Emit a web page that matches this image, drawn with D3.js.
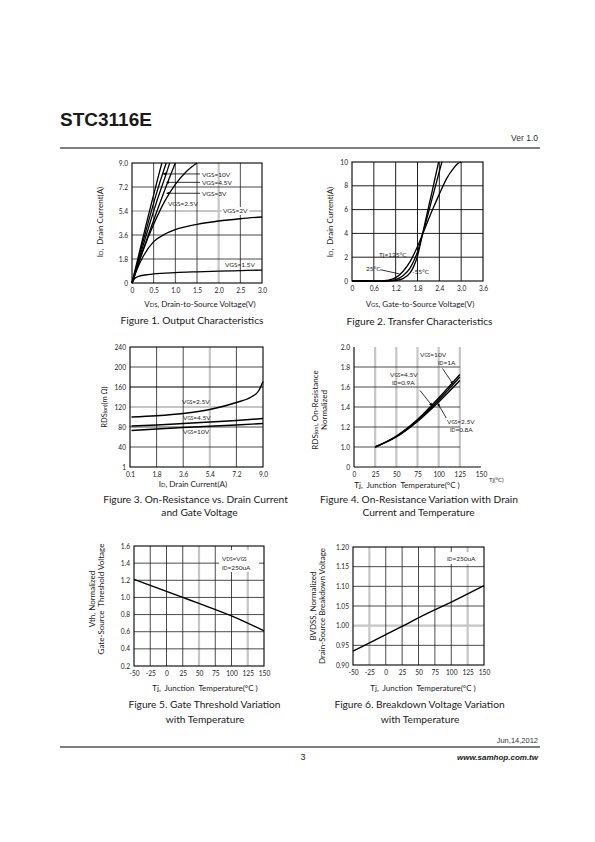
<!DOCTYPE html>
<html><head><meta charset="utf-8">
<script src="https://cdn.jsdelivr.net/npm/d3@7"></script>
<style>
body{margin:0;background:#fff;}
text{white-space:pre;}
</style></head><body>
<svg id="page" width="595" height="842"></svg>
<script>
// ---------------- DATA ----------------
// Figure 1: Output characteristics  [VDS (V), ID (A)]
const fig1XTicks = [0, 0.5, 1.0, 1.5, 2.0, 2.5, 3.0];
const fig1XTickLabels = ["0", "0.5", "1.0", "1.5", "2.0", "2.5", "3.0"];
const fig1YTicks = [0, 1.8, 3.6, 5.4, 7.2, 9.0];
const fig1YTickLabels = ["0", "1.8", "3.6", "5.4", "7.2", "9.0"];
const fig1Vgs10 = [[0,0],[0.2,2.7],[0.4,5.35],[0.6,7.9],[0.69,9.0]];
const fig1Vgs45 = [[0,0],[0.2,2.45],[0.4,4.85],[0.6,7.1],[0.79,9.0]];
const fig1Vgs3a = [[0,0],[0.2,2.2],[0.4,4.35],[0.6,6.4],[0.8,8.3],[0.87,9.0]];
const fig1Vgs3b = [[0,0],[0.2,1.95],[0.4,3.8],[0.6,5.6],[0.8,7.35],[1.0,9.0]];
const fig1Vgs25 = [[0,0],[0.25,2.4],[0.5,4.4],[0.75,6.1],[1.0,7.4],[1.25,8.35],[1.5,9.0]];
const fig1Vgs2 = [[0,0],[0.1,0.9],[0.25,1.95],[0.5,3.1],[0.75,3.65],[1.0,4.0],[1.5,4.4],[2.0,4.65],[2.5,4.82],[3.0,4.95]];
const fig1Vgs15 = [[0,0],[0.05,0.3],[0.15,0.5],[0.3,0.6],[0.5,0.68],[1.0,0.78],[1.5,0.84],[2.0,0.89],[2.5,0.93],[3.0,0.97]];

// Figure 2: Transfer characteristics [VGS (V), ID (A)]
const fig2XTicks = [0, 0.6, 1.2, 1.8, 2.4, 3.0, 3.6];
const fig2XTickLabels = ["0", "0.6", "1.2", "1.8", "2.4", "3.0", "3.6"];
const fig2YTicks = [0, 2, 4, 6, 8, 10];
const fig2YTickLabels = ["0", "2", "4", "6", "8", "10"];
const fig2Tj125 = [[0,0],[0.6,0],[0.9,0.03],[1.1,0.15],[1.2,0.28],[1.4,0.8],[1.6,1.65],[1.8,2.9],[2.0,4.4],[2.2,5.9],[2.4,7.3],[2.6,8.6],[2.8,9.5],[2.9,9.85],[3.0,10]];
const fig2Tj25 = [[0,0],[0.9,0],[1.0,0.02],[1.2,0.12],[1.4,0.45],[1.6,1.1],[1.7,1.7],[1.8,2.45],[1.9,3.5],[2.0,4.6],[2.2,6.9],[2.4,9.2],[2.47,10]];
const fig2TjM55 = [[0,0],[1.0,0],[1.2,0.04],[1.4,0.2],[1.6,0.7],[1.7,1.25],[1.8,2.1],[1.9,3.4],[2.0,4.8],[2.2,7.5],[2.38,10]];

// Figure 3: On-resistance vs drain current [ID (A), RDS(on) (mOhm)]
const fig3XTicks = [0, 1.8, 3.6, 5.4, 7.2, 9.0];
const fig3XTickLabels = ["0.1", "1.8", "3.6", "5.4", "7.2", "9.0"];
const fig3YTicks = [0, 40, 80, 120, 160, 200, 240];
const fig3YTickLabels = ["1", "40", "80", "120", "160", "200", "240"];
const fig3Vgs25 = [[0.1,100],[1.8,102.5],[3.6,107],[5.4,115],[7.2,129],[8.2,140],[8.7,152],[9.0,171]];
const fig3Vgs45 = [[0.1,82],[1.8,84],[3.6,87],[5.4,90],[7.2,93],[9.0,97]];
const fig3Vgs10 = [[0.1,73],[1.8,76],[3.6,79],[5.4,81.5],[7.2,84],[9.0,87]];

// Figure 4: On-resistance vs temperature [Tj (C), normalized RDS(on)]
const fig4XTicks = [0, 25, 50, 75, 100, 125, 150];
const fig4XTickLabels = ["0", "25", "50", "75", "100", "125", "150"];
const fig4YTicks = [0.8, 1.0, 1.2, 1.4, 1.6, 1.8, 2.0];
const fig4YTickLabels = ["0", "1.0", "1.2", "1.4", "1.6", "1.8", "2.0"];
const fig4Vgs10 = [[25,1.0],[50,1.11],[75,1.275],[100,1.49],[125,1.725]];
const fig4Vgs45 = [[25,1.0],[50,1.105],[75,1.265],[100,1.47],[125,1.70]];
const fig4Vgs25 = [[25,1.0],[50,1.10],[75,1.255],[100,1.45],[125,1.665]];

// Figure 5: Gate threshold vs temperature [Tj (C), normalized Vth]
const fig5XTicks = [-50, -25, 0, 25, 50, 75, 100, 125, 150];
const fig5XTickLabels = ["-50", "-25", "0", "25", "50", "75", "100", "125", "150"];
const fig5YTicks = [0.2, 0.4, 0.6, 0.8, 1.0, 1.2, 1.4, 1.6];
const fig5YTickLabels = ["0.2", "0.4", "0.6", "0.8", "1.0", "1.2", "1.4", "1.6"];
const fig5Vth = [[-50,1.21],[0,1.07],[25,1.0],[50,0.93],[100,0.785],[150,0.61]];

// Figure 6: Breakdown voltage vs temperature [Tj (C), normalized BVDSS]
const fig6XTicks = [-50, -25, 0, 25, 50, 75, 100, 125, 150];
const fig6XTickLabels = ["-50", "-25", "0", "25", "50", "75", "100", "125", "150"];
const fig6YTicks = [0.90, 0.95, 1.00, 1.05, 1.10, 1.15, 1.20];
const fig6YTickLabels = ["0.90", "0.95", "1.00", "1.05", "1.10", "1.15", "1.20"];
const fig6Bvdss = [[-50,0.935],[0,0.977],[25,0.998],[50,1.02],[100,1.06],[150,1.102]];

// ---------------- DRAWING ----------------
const svg = d3.select("#page");
const FONT = "Lato, 'Open Sans', 'DejaVu Sans', sans-serif";
const ARIAL = "'Liberation Sans', Arial, sans-serif";
const INK = "#1a1a1a";
const DARK = "#1e1e1e";
const GRAY = "#c6c6c6";
const CAP = 10.2, AXL = 8, TICK = 6.6, ANN = 6.5;

function addText(parent, x, y, str, size, anchor, opts = {}) {
  const t = parent.append("text")
    .attr("font-size", size)
    .attr("text-anchor", anchor || "start")
    .attr("fill", opts.fill || INK)
    .attr("font-family", opts.family || FONT);
  if (opts.rotate) t.attr("transform", `translate(${x},${y}) rotate(-90)`);
  else t.attr("x", x).attr("y", y);
  if (opts.weight) t.attr("font-weight", opts.weight);
  if (opts.style) t.attr("font-style", opts.style);
  str.split(/(_\{[^}]*\})/).forEach(p => {
    if (!p) return;
    const m = p.match(/^_\{(.*)\}$/);
    const s = t.append("tspan").text(m ? m[1] : p);
    if (m) s.attr("font-size", size * 0.72);
  });
  return t;
}

function panel(cfg) {
  const g = svg.append("g");
  const x = d3.scaleLinear().domain(cfg.xDomain).range([cfg.left, cfg.right]);
  const y = d3.scaleLinear().domain(cfg.yDomain).range([cfg.bottom, cfg.top]);
  return { g, x, y };
}
function vGrid(p, values, color, width, y0, y1) {
  const yd = p.y.domain();
  p.g.append("g").selectAll("line").data(values).join("line")
    .attr("x1", d => p.x(d)).attr("x2", d => p.x(d))
    .attr("y1", p.y(y0 ?? yd[0])).attr("y2", p.y(y1 ?? yd[1]))
    .attr("stroke", color).attr("stroke-width", width);
}
function hGrid(p, values, color, width, x0, x1) {
  const xd = p.x.domain();
  p.g.append("g").selectAll("line").data(values).join("line")
    .attr("y1", d => p.y(d)).attr("y2", d => p.y(d))
    .attr("x1", p.x(x0 ?? xd[0])).attr("x2", p.x(x1 ?? xd[1]))
    .attr("stroke", color).attr("stroke-width", width);
}
function frame(p) {
  const [x0, x1] = p.x.range(), [y0, y1] = p.y.range();
  p.g.append("rect").attr("x", x0).attr("y", y1).attr("width", x1 - x0).attr("height", y0 - y1)
    .attr("fill", "none").attr("stroke", "#000").attr("stroke-width", 1.1);
}
function axes(p, xT, xL, yT, yL) {
  const gx = p.g.append("g").attr("transform", `translate(0,${p.y.range()[0]})`)
    .call(d3.axisBottom(p.x).tickValues(xT).tickFormat((d, i) => xL[i]).tickSize(0).tickPadding(5));
  const gy = p.g.append("g").attr("transform", `translate(${p.x.range()[0]},0)`)
    .call(d3.axisLeft(p.y).tickValues(yT).tickFormat((d, i) => yL[i]).tickSize(0).tickPadding(4));
  [gx, gy].forEach(a => {
    a.select(".domain").remove();
    a.selectAll("text").attr("font-family", FONT).attr("font-size", TICK).attr("fill", "#222");
  });
}
function curve(p, data, width, kind) {
  const line = d3.line().x(d => p.x(d[0])).y(d => p.y(d[1])).curve(kind || d3.curveMonotoneX);
  p.g.append("path").datum(data).attr("d", line)
    .attr("fill", "none").attr("stroke", "#000").attr("stroke-width", width || 1.3)
    .attr("stroke-linejoin", "round");
}
function pointer(p, a, b) {
  p.g.append("line").attr("x1", p.x(a[0])).attr("y1", p.y(a[1])).attr("x2", p.x(b[0])).attr("y2", p.y(b[1]))
    .attr("stroke", "#000").attr("stroke-width", 0.8).attr("marker-end", "url(#arrow)");
}
function whiteBox(p, x, y, w, h) {
  p.g.append("rect").attr("x", x).attr("y", y).attr("width", w).attr("height", h).attr("fill", "#fff");
}

svg.append("defs").append("marker").attr("id", "arrow").attr("viewBox", "0 0 6 6")
  .attr("refX", 5).attr("refY", 3).attr("markerWidth", 4).attr("markerHeight", 4).attr("orient", "auto")
  .append("path").attr("d", "M0,0 L6,3 L0,6 z").attr("fill", "#000");

// ---- Header / footer ----
addText(svg, 60, 126, "STC3116E", 19, "start", { family: ARIAL, weight: "bold" });
addText(svg, 538, 141, "Ver 1.0", 8.5, "end", { family: ARIAL, fill: "#333" });
svg.append("line").attr("x1", 60).attr("x2", 540).attr("y1", 148).attr("y2", 148).attr("stroke", "#000").attr("stroke-width", 1);
addText(svg, 538, 743, "Jun,14,2012", 7.5, "end", { family: ARIAL, fill: "#333" });
svg.append("line").attr("x1", 60).attr("x2", 540).attr("y1", 747).attr("y2", 747).attr("stroke", "#000").attr("stroke-width", 1);
addText(svg, 303, 760, "3", 9, "middle", { family: ARIAL });
addText(svg, 538, 760, "www.samhop.com.tw", 8, "end", { family: ARIAL, weight: "bold", style: "italic" });

// ---- Figure 1 ----
const p1 = panel({ left: 132, right: 262, top: 163, bottom: 283, xDomain: [0, 3], yDomain: [0, 9] });
vGrid(p1, [2.0], GRAY, 2.2); hGrid(p1, [5.4], GRAY, 2.2);
vGrid(p1, [0.5, 1.0, 1.5, 2.5], DARK, 0.8); hGrid(p1, [1.8, 3.6, 7.2], DARK, 0.8);
frame(p1);
axes(p1, fig1XTicks, fig1XTickLabels, fig1YTicks, fig1YTickLabels);
[fig1Vgs10, fig1Vgs45, fig1Vgs3a, fig1Vgs3b, fig1Vgs25, fig1Vgs2, fig1Vgs15].forEach(d => curve(p1, d, 1.3));
pointer(p1, [1.57, 8.18], [0.72, 8.18]);
pointer(p1, [1.57, 7.55], [0.80, 7.55]);
pointer(p1, [1.57, 6.73], [0.80, 6.73]);
addText(p1.g, 202, 176.5, "VGS=10V", ANN);
addText(p1.g, 202, 184.8, "VGS=4.5V", ANN);
addText(p1.g, 202, 195.8, "VGS=3V", ANN);
addText(p1.g, 168, 205.8, "VGS=2.5V", ANN);
whiteBox(p1, 221.5, 207, 28, 8);
addText(p1.g, 223, 213.3, "VGS=2V", ANN);
addText(p1.g, 225, 266.5, "VGS=1.5V", ANN);
addText(svg, 103, 222, "I_{D},  Drain Current(A)", AXL, "middle", { rotate: true });
addText(svg, 200, 307, "V_{DS}, Drain-to-Source Voltage(V)", AXL, "middle");
addText(svg, 192, 324, "Figure 1. Output Characteristics", CAP, "middle");

// ---- Figure 2 ----
const p2 = panel({ left: 352, right: 483, top: 162, bottom: 281, xDomain: [0, 3.6], yDomain: [0, 10] });
vGrid(p2, fig2XTicks.slice(1, -1), DARK, 1.0); hGrid(p2, fig2YTicks.slice(1, -1), DARK, 1.0);
frame(p2);
axes(p2, fig2XTicks, fig2XTickLabels, fig2YTicks, fig2YTickLabels);
[fig2Tj125, fig2Tj25, fig2TjM55].forEach(d => curve(p2, d, 1.3));
addText(p2.g, 379, 256.5, "Tj=125°C", ANN);
addText(p2.g, 366, 270.5, "25°C", ANN);
p2.g.append("line").attr("x1", p2.x(0.78)).attr("y1", p2.y(0.95)).attr("x2", p2.x(1.3)).attr("y2", p2.y(0.6)).attr("stroke", "#000").attr("stroke-width", 0.8);
addText(p2.g, 412, 273.5, "-55°C", ANN);
addText(svg, 333, 222, "I_{D},  Drain Current(A)", AXL, "middle", { rotate: true });
addText(svg, 420, 307, "V_{GS}, Gate-to-Source Voltage(V)", AXL, "middle");
addText(svg, 419.5, 325, "Figure 2. Transfer Characteristics", CAP, "middle");

// ---- Figure 3 ----
const p3 = panel({ left: 130, right: 263, top: 347, bottom: 467, xDomain: [0, 9], yDomain: [0, 240] });
vGrid(p3, [5.4], GRAY, 2.2); hGrid(p3, [120], GRAY, 2.2);
vGrid(p3, [1.8, 3.6, 7.2], DARK, 0.8); hGrid(p3, [40, 80, 200], DARK, 0.8);
hGrid(p3, [160], "#000", 1.2);
frame(p3);
axes(p3, fig3XTicks, fig3XTickLabels, fig3YTicks, fig3YTickLabels);
[fig3Vgs25, fig3Vgs45, fig3Vgs10].forEach(d => curve(p3, d, 1.4));
addText(p3.g, 182, 403.5, "V_{GS}=2.5V", ANN);
addText(p3.g, 183, 419.5, "V_{GS}=4.5V", ANN);
addText(p3.g, 183, 434, "V_{GS}=10V", ANN);
addText(svg, 107, 407, "RDS_{(on)}(m Ω)", 7.5, "middle", { rotate: true });
addText(svg, 193, 487, "I_{D}, Drain Current(A)", AXL, "middle");
addText(svg, 195.5, 503, "Figure 3. On-Resistance vs. Drain Current", CAP, "middle");
addText(svg, 199.5, 516, "and Gate Voltage", CAP, "middle");

// ---- Figure 4 ----
const p4 = panel({ left: 354, right: 481, top: 347, bottom: 467, xDomain: [0, 150], yDomain: [0.8, 2.0] });
vGrid(p4, [25, 50, 75, 100, 125], GRAY, 2.2);
hGrid(p4, [1.0, 1.2, 1.4, 1.6, 1.8], DARK, 0.8, 0, 125);
p4.g.append("line").attr("x1", p4.x(0)).attr("x2", p4.x(0)).attr("y1", p4.y(0.8)).attr("y2", p4.y(2.0)).attr("stroke", "#000").attr("stroke-width", 1.1);
p4.g.append("line").attr("x1", p4.x(0)).attr("x2", p4.x(150)).attr("y1", p4.y(0.8)).attr("y2", p4.y(0.8)).attr("stroke", "#000").attr("stroke-width", 1.1);
axes(p4, fig4XTicks, fig4XTickLabels, fig4YTicks, fig4YTickLabels);
[fig4Vgs10, fig4Vgs45, fig4Vgs25].forEach(d => curve(p4, d, 1.4));
addText(p4.g, 420, 357, "V_{GS}=10V", ANN);
addText(p4.g, 438, 365, "I_{D}=1A", ANN);
pointer(p4, [104.5, 1.785], [117, 1.63]);
addText(p4.g, 390, 377, "V_{GS}=4.5V", ANN);
addText(p4.g, 392, 384.5, "I_{D}=0.9A", ANN);
pointer(p4, [78, 1.565], [92, 1.415]);
addText(p4.g, 447, 424, "V_{GS}=2.5V", ANN);
addText(p4.g, 450, 431.5, "I_{D}=0.8A", ANN);
pointer(p4, [109, 1.29], [99, 1.435]);
addText(p4.g, 489, 482, "Tj(°C)", 6);
addText(svg, 318, 410, "RDS_{(on)}, On-Resistance", AXL, "middle", { rotate: true });
addText(svg, 327, 410, "Normalized", AXL, "middle", { rotate: true });
addText(svg, 407, 488, "Tj,  Junction  Temperature(°C )", AXL, "middle");
addText(svg, 419, 503, "Figure 4. On-Resistance Variation with Drain", CAP, "middle");
addText(svg, 418.5, 516, "Current and Temperature", CAP, "middle");

// ---- Figure 5 ----
const p5 = panel({ left: 134, right: 264, top: 546, bottom: 666, xDomain: [-50, 150], yDomain: [0.2, 1.6] });
vGrid(p5, [50, 125], GRAY, 2.2);
vGrid(p5, [-25, 0, 25, 75, 100], DARK, 0.8); hGrid(p5, [0.4, 0.6, 0.8, 1.0, 1.2, 1.4], DARK, 0.8);
whiteBox(p5, 219, 550, 40, 22);
frame(p5);
axes(p5, fig5XTicks, fig5XTickLabels, fig5YTicks, fig5YTickLabels);
curve(p5, fig5Vth, 1.4);
addText(p5.g, 222, 560.5, "V_{DS}=V_{GS}", ANN);
addText(p5.g, 222, 569.5, "I_{D}=250uA", ANN);
addText(svg, 95, 599, "Vth, Normalized", AXL, "middle", { rotate: true });
addText(svg, 103.5, 599, "Gate-Source  Threshold Voltage", AXL, "middle", { rotate: true });
addText(svg, 205, 691, "Tj,  Junction  Temperature(°C )", AXL, "middle");
addText(svg, 204.5, 708, "Figure 5. Gate Threshold Variation", CAP, "middle");
addText(svg, 205, 723, "with Temperature", CAP, "middle");

// ---- Figure 6 ----
const p6 = panel({ left: 353, right: 484, top: 547, bottom: 665, xDomain: [-50, 150], yDomain: [0.90, 1.20] });
vGrid(p6, [-25, 125], GRAY, 2.2); hGrid(p6, [1.00], GRAY, 2.2);
vGrid(p6, [0, 25, 50, 75, 100], DARK, 0.8); hGrid(p6, [0.95, 1.05, 1.10, 1.15], DARK, 0.8);
whiteBox(p6, 444, 552, 36, 12);
frame(p6);
axes(p6, fig6XTicks, fig6XTickLabels, fig6YTicks, fig6YTickLabels);
curve(p6, fig6Bvdss, 1.4);
addText(p6.g, 447, 561, "I_{D}=250uA", ANN);
addText(svg, 316, 606, "BVDSS, Normalized", AXL, "middle", { rotate: true });
addText(svg, 324.5, 606, "Drain-Source Breakdown Voltage", AXL, "middle", { rotate: true });
addText(svg, 423, 691, "Tj,  Junction  Temperature(°C )", AXL, "middle");
addText(svg, 419.5, 708, "Figure 6. Breakdown Voltage Variation", CAP, "middle");
addText(svg, 420, 723, "with Temperature", CAP, "middle");
</script>
</body></html>
